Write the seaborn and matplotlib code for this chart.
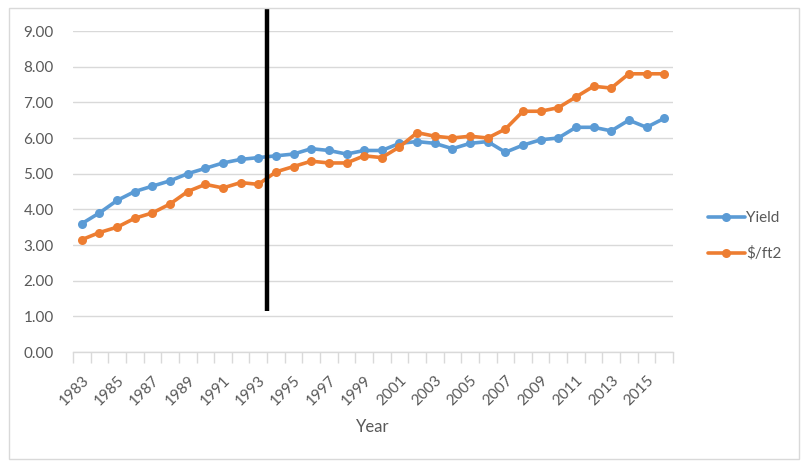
import matplotlib
matplotlib.use("Agg")
import matplotlib.pyplot as plt
import matplotlib.patches as mpatches
import matplotlib.transforms as mtransforms
import numpy as np
import pandas as pd
import seaborn as sns

# Annual series, 1983-2016
years = list(range(1983, 2017))
yield_vals = [3.60, 3.90, 4.25, 4.50, 4.65, 4.80, 5.00, 5.15, 5.30, 5.40,
              5.45, 5.50, 5.55, 5.70, 5.65, 5.55, 5.65, 5.65, 5.85, 5.90,
              5.85, 5.70, 5.85, 5.90, 5.60, 5.80, 5.95, 6.00, 6.30, 6.30,
              6.20, 6.50, 6.30, 6.55]
price_vals = [3.15, 3.35, 3.50, 3.75, 3.90, 4.15, 4.50, 4.70, 4.60, 4.75,
              4.70, 5.05, 5.20, 5.35, 5.30, 5.30, 5.50, 5.45, 5.75, 6.15,
              6.05, 6.00, 6.05, 6.00, 6.25, 6.75, 6.75, 6.85, 7.15, 7.45,
              7.40, 7.80, 7.80, 7.80]
series_names = ["Yield", "$/ft2"]
y_ticks = [0, 1, 2, 3, 4, 5, 6, 7, 8, 9]
x_label_years = list(range(1983, 2016, 2))
# Marker line placed between 1993 and 1994
divider_year = 1993.5
divider_span = [1.15, 9.65]

df = pd.DataFrame({
    "Year": years * 2,
    "Value": yield_vals + price_vals,
    "Series": [series_names[0]] * len(years) + [series_names[1]] * len(years),
})

sns.set_theme(style="white")
plt.rcParams["font.family"] = ["Lato", "DejaVu Sans"]

W, H = 801, 465
fig = plt.figure(figsize=(W / 100, H / 100), dpi=100)
ax = fig.add_axes([73 / W, 1 - 352 / H, 600 / W, 321 / H])

palette = {"Yield": "#5B9BD5", "$/ft2": "#ED7D31"}
sns.lineplot(data=df, x="Year", y="Value", hue="Series", hue_order=series_names,
             palette=palette, marker="o", markersize=6.5, markeredgewidth=0,
             linewidth=2.6, ax=ax, legend=False, zorder=3)

ax.set_xlim(1982.5, 2016.5)
ax.set_ylim(0, 9)
ax.set_yticks(y_ticks)
ax.set_yticklabels([f"{v:.2f}" for v in y_ticks], color="#595959", fontsize=11)
ax.set_xticks(x_label_years)
ax.set_xticklabels([str(y) for y in x_label_years], rotation=45, ha="right",
                   rotation_mode="anchor", color="#595959", fontsize=11)
shift = mtransforms.ScaledTranslation(5 / 100, 0, fig.dpi_scale_trans)
for lbl in ax.get_xticklabels():
    lbl.set_transform(lbl.get_transform() + shift)
ax.set_xticks(np.arange(1982.5, 2017, 1), minor=True)
ax.tick_params(axis="x", which="major", length=0, pad=15)
ax.tick_params(axis="x", which="minor", length=8, color="#D9D9D9", width=1,
               direction="out", bottom=True)
ax.tick_params(axis="y", length=0, pad=14)
ax.set_xlabel("Year", color="#595959", fontsize=12, labelpad=8)
ax.set_ylabel("")

ax.grid(axis="y", color="#D9D9D9", linewidth=1)
ax.grid(axis="x", visible=False)
for side in ["left", "right", "top"]:
    ax.spines[side].set_visible(False)
ax.spines["bottom"].set_color("#D9D9D9")
ax.spines["bottom"].set_linewidth(1)

# Vertical divider
ax.plot([divider_year, divider_year], divider_span, color="black",
        linewidth=3.2, solid_capstyle="butt", clip_on=False, zorder=4)

# Legend
handles = [plt.Line2D([], [], color=palette[n], marker="o", markersize=6.5,
                      markeredgewidth=0, linewidth=2.6) for n in series_names]
fig.legend(handles, series_names, loc="center left",
           bbox_to_anchor=(702 / W, 1 - 236 / H), frameon=False,
           fontsize=11, labelcolor="#595959", handlelength=2.4,
           handletextpad=0.1, labelspacing=1.4, borderaxespad=0)

# Chart area border
fig.patches.append(mpatches.Rectangle((9 / W, 1 - 459 / H), 790 / W, 451 / H,
                                      transform=fig.transFigure, fill=False,
                                      edgecolor="#D9D9D9", linewidth=1))

fig.savefig("out.png", dpi=100, facecolor="white")
